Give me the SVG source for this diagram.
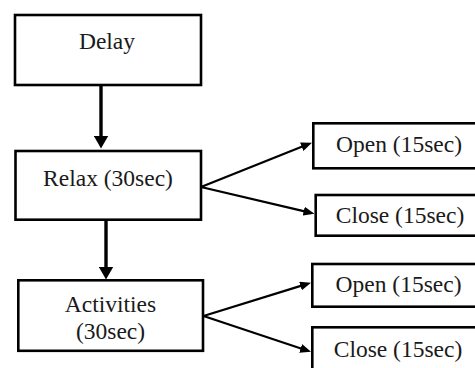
<svg xmlns="http://www.w3.org/2000/svg" width="475" height="368" viewBox="0 0 475 368">
<style>
.box{fill:#fff;stroke:#000;stroke-width:2.6}
.lbl{font-size:23.5px;fill:#1a1a1a;text-anchor:middle}
.thick{stroke:#000;stroke-width:3.4;fill:none}
.thin{stroke:#000;stroke-width:2.3;fill:none}
</style>
<defs>
<marker id="big" viewBox="0 0 13 15" markerWidth="13" markerHeight="15" refX="3" refY="7.5" markerUnits="userSpaceOnUse" orient="auto">
<path d="M0,0 L13,7.5 L0,15 z" fill="#000"/>
</marker>
<marker id="small" viewBox="0 0 11 9" markerWidth="11" markerHeight="9" refX="2" refY="4.5" markerUnits="userSpaceOnUse" orient="auto">
<path d="M0,0 L11,4.5 L0,9 z" fill="#000"/>
</marker>
</defs>
<rect width="475" height="368" fill="#fff"/>
<g id="connectors">
<line class="thick" x1="101" y1="86" x2="101" y2="138.5" marker-end="url(#big)"/>
<line class="thick" x1="106" y1="220" x2="106" y2="269.5" marker-end="url(#big)"/>
<line class="thin" x1="201" y1="187" x2="303.6" y2="146" marker-end="url(#small)"/>
<line class="thin" x1="201" y1="187" x2="305.7" y2="211.6" marker-end="url(#small)"/>
<line class="thin" x1="203.5" y1="316" x2="302.4" y2="285.4" marker-end="url(#small)"/>
<line class="thin" x1="203.5" y1="316" x2="302.5" y2="349" marker-end="url(#small)"/>
</g>
<g font-family="Liberation Serif, DejaVu Serif, serif">
<g id="delay">
<rect class="box" x="15" y="15" width="186" height="70"/>
<text class="lbl" x="107" y="49">Delay</text>
</g>
<g id="relax">
<rect class="box" x="15.5" y="151" width="185.5" height="68.7"/>
<text class="lbl" x="108" y="186">Relax (30sec)</text>
</g>
<g id="activities">
<rect class="box" x="18.3" y="280.3" width="184.7" height="70.5"/>
<text class="lbl" x="110.5" y="311.5">Activities</text>
<text class="lbl" x="110.5" y="339">(30sec)</text>
</g>
<g id="open1">
<rect class="box" x="313.3" y="123.3" width="180" height="45"/>
<text class="lbl" x="399" y="151.5">Open (15sec)</text>
</g>
<g id="close1">
<rect class="box" x="315.7" y="195" width="180" height="40.7"/>
<text class="lbl" x="400" y="223">Close (15sec)</text>
</g>
<g id="open2">
<rect class="box" x="312.3" y="264" width="180" height="42.7"/>
<text class="lbl" x="398.5" y="291.5">Open (15sec)</text>
</g>
<g id="close2">
<rect class="box" x="312.3" y="327.3" width="180" height="60"/>
<text class="lbl" x="398" y="356.5">Close (15sec)</text>
</g>
</g>
</svg>
